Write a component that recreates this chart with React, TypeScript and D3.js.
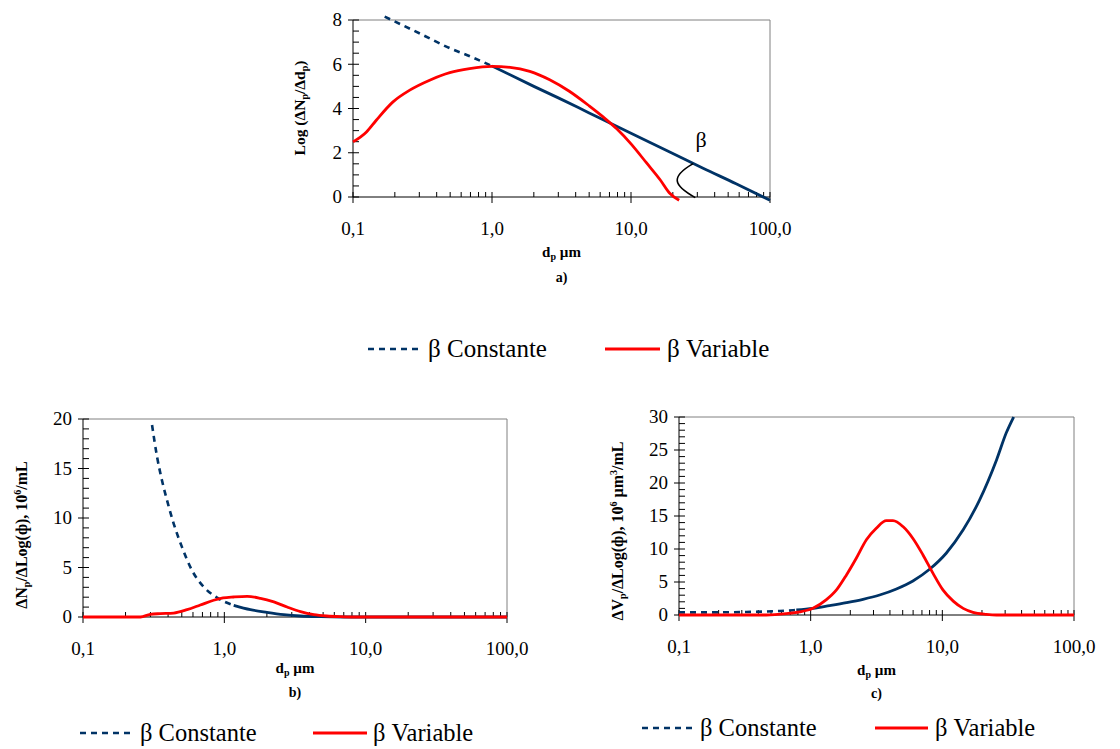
import React from "react";
import * as d3 from "d3";

type Pt = [number, number];

// particle diameter axis (µm, log scale)
const dpDomain: [number, number] = [0.1, 100];
const dpMajor = [0.1, 1, 10, 100];
const dpMajorLabels = ["0,1", "1,0", "10,0", "100,0"];

// a) Log(ΔNp/Δdp) against dp
const aYTicks = [0, 2, 4, 6, 8];
const aConstante: Pt[] = [
  [0.169, 8.15], [0.3, 7.4], [0.5, 6.72], [0.7, 6.35], [1.0, 5.92],
  [2.0, 5.0], [3.0, 4.48], [5.0, 3.8], [10, 2.88], [20, 1.97],
  [33, 1.3], [57, 0.6], [100, -0.15],
];
const aVariable: Pt[] = [
  [0.1, 2.49], [0.125, 2.94], [0.147, 3.47], [0.194, 4.3], [0.256, 4.83],
  [0.356, 5.28], [0.497, 5.62], [0.69, 5.8], [1.0, 5.9], [1.35, 5.86],
  [1.87, 5.68], [2.6, 5.3], [3.6, 4.78], [5.0, 4.12], [6.3, 3.62],
  [7.9, 3.08], [10, 2.4], [12.9, 1.55], [16.2, 0.78], [19.0, 0.17],
  [22.2, -0.15],
];
// angle annotation: bracket from the line down to the axis, and its label
const aAngleArc: Pt[] = [[28, 1.51], [19.1, 0.91], [20.1, 0.53], [29, -0.03]];
const aAngleLabelAt: Pt = [32, 2.25];

// b) ΔNp/ΔLog(ф) against dp
const bYTicks = [0, 5, 10, 15, 20];
const bConstante: Pt[] = [
  [0.308, 19.4], [0.334, 16.2], [0.362, 13.8], [0.393, 11.8], [0.438, 9.44],
  [0.501, 7.08], [0.59, 4.72], [0.714, 3.04], [0.887, 1.96], [1.165, 1.18],
  [1.53, 0.74], [2.0, 0.47], [2.63, 0.24], [3.46, 0.1], [4.8, 0.03],
  [7, 0], [100, 0],
];
const bVariable: Pt[] = [
  [0.1, 0], [0.255, 0], [0.299, 0.27], [0.352, 0.34], [0.438, 0.4],
  [0.545, 0.74], [0.676, 1.21], [0.84, 1.69], [0.98, 1.92], [1.165, 2.02],
  [1.45, 2.09], [1.8, 1.89], [2.24, 1.52], [2.78, 1.01], [3.46, 0.54],
  [4.3, 0.24], [5.3, 0.1], [6.6, 0.03], [8, 0], [100, 0],
];

// c) ΔVp/ΔLog(ф) against dp
const cYTicks = [0, 5, 10, 15, 20, 25, 30];
const cConstante: Pt[] = [
  [0.1, 0.4], [0.181, 0.4], [0.325, 0.46], [0.582, 0.61], [0.778, 0.76],
  [1.04, 1.01], [1.39, 1.42], [1.87, 1.87], [2.5, 2.38], [3.34, 3.03],
  [4.48, 3.95], [5.98, 5.16], [8.0, 6.93], [10.7, 9.36], [14.4, 12.9],
  [19.2, 17.45], [25.8, 23.5], [30.6, 27.6], [34.8, 30],
];
const cVariable: Pt[] = [
  [0.1, 0], [0.46, 0], [0.653, 0.2], [0.824, 0.46], [1.04, 1.01],
  [1.31, 2.28], [1.57, 3.79], [1.87, 6.07], [2.22, 8.6], [2.65, 11.4],
  [3.15, 13.15], [3.76, 14.3], [4.22, 14.3], [5.02, 13.4], [5.98, 11.6],
  [7.13, 9.1], [8.5, 6.3], [10.1, 3.8], [12.1, 2.1], [14.4, 1.0],
  [17.1, 0.4], [21.6, 0.1], [25.8, 0], [100, 0],
];

const SERIF = "Liberation Serif";
const NAVY = "#003366";
const RED = "#ff0000";
const DASH = "6,5";

const serif = (size: number, bold = false): React.CSSProperties => ({
  fontFamily: SERIF,
  fontSize: size,
  fontWeight: bold ? "bold" : "normal",
});

type Box = { left: number; right: number; top: number; bottom: number };

type PanelProps = {
  box: Box;
  yTicks: number[];
  yMinorStep: number;
  constante: Pt[];
  dashUntil: number;
  variable: Pt[];
  yTitle: React.ReactNode;
  yTitleX: number;
  yTitleY: number;
  yTitleSize: number;
  xTitleY: number;
  tag: string;
  tagY: number;
  legendY: number;
  legendX: number[];
  legendSize: number;
  extra?: (x: d3.ScaleLogarithmic<number, number>, y: d3.ScaleLinear<number, number>) => React.ReactNode;
};

function Panel(p: PanelProps) {
  const { box } = p;
  const x = d3.scaleLog().domain(dpDomain).range([box.left, box.right]);
  const yMax = p.yTicks[p.yTicks.length - 1];
  const y = d3.scaleLinear().domain([0, yMax]).range([box.bottom, box.top]);
  const line = d3
    .line<Pt>()
    .x((d) => x(d[0]))
    .y((d) => y(d[1]))
    .curve(d3.curveMonotoneX);

  const dashed = p.constante.filter((d) => d[0] <= p.dashUntil);
  const solid = p.constante.filter((d) => d[0] >= p.dashUntil);
  const xMinor = x.ticks().filter((t) => !dpMajor.some((m) => Math.abs(m - t) < 1e-9));
  const yMinor = d3.range(0, yMax + 1e-9, p.yMinorStep).filter((v) => !p.yTicks.includes(v));
  const cx = (box.left + box.right) / 2;

  return (
    <g>
      {/* frame */}
      <line x1={box.left} x2={box.right} y1={box.top} y2={box.top} stroke="#808080" />
      <line x1={box.right} x2={box.right} y1={box.top} y2={box.bottom} stroke="#808080" />
      {/* y axis */}
      <line x1={box.left} x2={box.left} y1={box.top} y2={box.bottom} stroke="#000" />
      {yMinor.map((v) => (
        <line key={"ym" + v} x1={box.left} x2={box.left + 6} y1={y(v)} y2={y(v)} stroke="#000" />
      ))}
      {p.yTicks.map((v) => (
        <g key={"y" + v}>
          <line x1={box.left - 5} x2={box.left + 6} y1={y(v)} y2={y(v)} stroke="#000" />
          <text x={box.left - 11} y={y(v)} dy="0.34em" textAnchor="end" style={serif(19)}>
            {v}
          </text>
        </g>
      ))}
      {/* x axis */}
      <line x1={box.left} x2={box.right} y1={box.bottom} y2={box.bottom} stroke="#000" />
      {xMinor.map((t) => (
        <line key={"xm" + t} x1={x(t)} x2={x(t)} y1={box.bottom - 5} y2={box.bottom} stroke="#000" />
      ))}
      {dpMajor.map((t, i) => (
        <g key={"x" + t}>
          <line x1={x(t)} x2={x(t)} y1={box.bottom - 5} y2={box.bottom + 6} stroke="#000" />
          <text x={x(t)} y={box.bottom + 38} textAnchor="middle" style={serif(19)}>
            {dpMajorLabels[i]}
          </text>
        </g>
      ))}
      {/* series */}
      <path d={line(dashed) ?? ""} fill="none" stroke={NAVY} strokeWidth={2.6} strokeDasharray={DASH} />
      <path d={line(solid) ?? ""} fill="none" stroke={NAVY} strokeWidth={2.8} />
      <path d={line(p.variable) ?? ""} fill="none" stroke={RED} strokeWidth={2.8} />
      {p.extra ? p.extra(x, y) : null}
      {/* titles */}
      <text
        transform={`translate(${p.yTitleX},${p.yTitleY}) rotate(-90)`}
        textAnchor="middle"
        style={serif(p.yTitleSize, true)}
      >
        {p.yTitle}
      </text>
      <text x={cx} y={p.xTitleY} textAnchor="middle" style={serif(15, true)}>
        d<tspan fontSize={10} dy={3}>p</tspan>
        <tspan dy={-3}> µm</tspan>
      </text>
      <text x={cx} y={p.tagY} textAnchor="middle" style={serif(14, true)}>
        {p.tag}
      </text>
      {/* legend */}
      <line
        x1={p.legendX[0]}
        x2={p.legendX[1]}
        y1={p.legendY}
        y2={p.legendY}
        stroke={NAVY}
        strokeWidth={2.6}
        strokeDasharray={DASH}
      />
      <text x={p.legendX[2]} y={p.legendY + 8} style={serif(p.legendSize)}>
        β Constante
      </text>
      <line
        x1={p.legendX[3]}
        x2={p.legendX[4]}
        y1={p.legendY}
        y2={p.legendY}
        stroke={RED}
        strokeWidth={2.8}
      />
      <text x={p.legendX[5]} y={p.legendY + 8} style={serif(p.legendSize)}>
        β Variable
      </text>
    </g>
  );
}

export default function App() {
  const angleMark = (x: d3.ScaleLogarithmic<number, number>, y: d3.ScaleLinear<number, number>) => {
    const [a, b, c, d] = aAngleArc.map((q) => [x(q[0]), y(q[1])]);
    return (
      <g>
        <path
          d={`M${a[0]},${a[1]} C${b[0]},${b[1]} ${c[0]},${c[1]} ${d[0]},${d[1]}`}
          fill="none"
          stroke="#000"
          strokeWidth={1.6}
        />
        <text
          x={x(aAngleLabelAt[0])}
          y={y(aAngleLabelAt[1])}
          textAnchor="middle"
          style={serif(22)}
        >
          β
        </text>
      </g>
    );
  };

  return (
    <svg
      width={1120}
      height={749}
      style={{ position: "absolute", left: 0, top: 0, background: "#fff" }}
    >
      <Panel
        box={{ left: 353, right: 770, top: 20, bottom: 197 }}
        yTicks={aYTicks}
        yMinorStep={0.5}
        constante={aConstante}
        dashUntil={1.0}
        variable={aVariable}
        yTitle={
          <>
            Log (ΔN<tspan fontSize={10} dy={3}>p</tspan>
            <tspan dy={-3}>/Δd</tspan>
            <tspan fontSize={10} dy={3}>p</tspan>
            <tspan dy={-3}>)</tspan>
          </>
        }
        yTitleX={305}
        yTitleY={108}
        yTitleSize={15.5}
        xTitleY={257}
        tag="a)"
        tagY={282}
        legendY={349}
        legendX={[368, 422, 428, 605, 660, 667]}
        legendSize={25}
        extra={angleMark}
      />
      <Panel
        box={{ left: 83, right: 507, top: 419, bottom: 617 }}
        yTicks={bYTicks}
        yMinorStep={1}
        constante={bConstante}
        dashUntil={1.165}
        variable={bVariable}
        yTitle={
          <>
            ΔN<tspan fontSize={10} dy={3}>p</tspan>
            <tspan dy={-3}>/ΔLog(ф), 10</tspan>
            <tspan fontSize={10} dy={-6}>6</tspan>
            <tspan dy={6}>/mL</tspan>
          </>
        }
        yTitleX={27}
        yTitleY={535}
        yTitleSize={16}
        xTitleY={673}
        tag="b)"
        tagY={697}
        legendY={733}
        legendX={[80, 133, 140, 313, 367, 373]}
        legendSize={24.5}
      />
      <Panel
        box={{ left: 679, right: 1074, top: 417, bottom: 615 }}
        yTicks={cYTicks}
        yMinorStep={1}
        constante={cConstante}
        dashUntil={0.778}
        variable={cVariable}
        yTitle={
          <>
            ΔV<tspan fontSize={10} dy={3}>p</tspan>
            <tspan dy={-3}>/ΔLog(ф), 10</tspan>
            <tspan fontSize={10} dy={-6}>6</tspan>
            <tspan dy={6}> µm</tspan>
            <tspan fontSize={10} dy={-6}>3</tspan>
            <tspan dy={6}>/mL</tspan>
          </>
        }
        yTitleX={623}
        yTitleY={531}
        yTitleSize={16}
        xTitleY={675}
        tag="c)"
        tagY={698}
        legendY={728}
        legendX={[642, 695, 700, 875, 928, 935]}
        legendSize={24.5}
      />
    </svg>
  );
}
